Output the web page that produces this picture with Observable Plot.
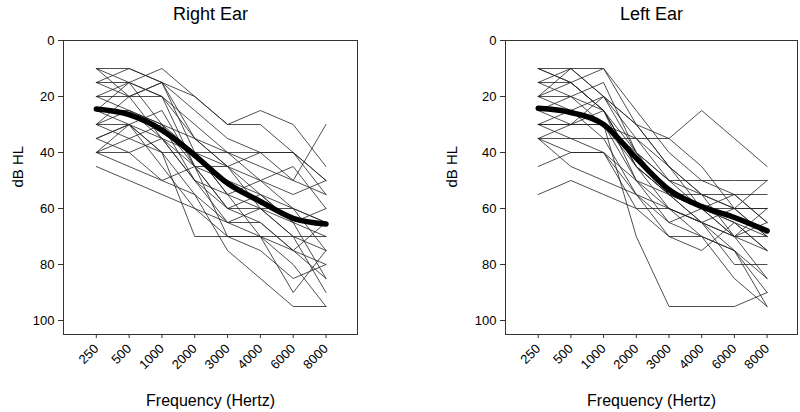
<!DOCTYPE html>
<html>
<head>
<meta charset="utf-8">
<script src="https://cdn.jsdelivr.net/npm/d3@7"></script>
<script src="https://cdn.jsdelivr.net/npm/@observablehq/plot@0.6"></script>
<style>
  html, body { margin: 0; padding: 0; background: #fff; }
  #wrap { display: flex; width: 800px; height: 412px; }
</style>
</head>
<body>
<div id="wrap"></div>
<script>
const freqs = ["250", "500", "1000", "2000", "3000", "4000", "6000", "8000"];
const yTicks = [0, 20, 40, 60, 80, 100];
const titles = ["Right Ear", "Left Ear"];
const yLabel = "dB HL";
const xLabel = "Frequency (Hertz)";

// Individual audiograms, right ear (dB HL at each frequency)
const rightLines = [
  [10, 10, 15, 20, 30, 25, 30, 45],
  [10, 20, 15, 25, 35, 40, 50, 30],
  [15, 15, 10, 20, 30, 30, 40, 50],
  [15, 10, 15, 35, 45, 40, 40, 55],
  [15, 20, 15, 40, 55, 50, 45, 60],
  [20, 15, 20, 30, 40, 50, 55, 50],
  [20, 25, 30, 45, 60, 60, 70, 75],
  [20, 20, 20, 45, 50, 55, 60, 65],
  [25, 15, 30, 40, 55, 70, 80, 95],
  [25, 30, 25, 45, 70, 70, 70, 70],
  [25, 25, 35, 50, 60, 55, 65, 60],
  [30, 25, 30, 35, 40, 45, 50, 55],
  [30, 35, 30, 50, 65, 65, 75, 85],
  [30, 20, 35, 40, 45, 60, 65, 70],
  [30, 30, 40, 55, 75, 85, 95, 95],
  [35, 30, 35, 45, 60, 65, 75, 80],
  [35, 40, 35, 50, 55, 60, 70, 90],
  [35, 30, 40, 70, 70, 70, 75, 65],
  [40, 35, 40, 40, 40, 40, 40, 50],
  [40, 45, 50, 55, 65, 60, 60, 65],
  [40, 30, 45, 60, 65, 70, 90, 75],
  [40, 40, 50, 45, 45, 50, 60, 75],
  [45, 50, 55, 60, 70, 75, 85, 80],
  [10, 15, 20, 35, 45, 55, 65, 85]
];
const rightMean = [24.5, 26.5, 32, 41, 51, 57.5, 63.5, 65.5];

// Individual audiograms, left ear
const leftLines = [
  [10, 10, 10, 30, 45, 55, 60, 70],
  [10, 15, 10, 25, 40, 50, 55, 65],
  [15, 10, 20, 35, 50, 60, 65, 75],
  [15, 20, 15, 40, 55, 55, 60, 60],
  [15, 15, 25, 45, 55, 60, 70, 70],
  [20, 10, 20, 30, 45, 60, 60, 50],
  [20, 20, 25, 50, 60, 65, 75, 90],
  [20, 25, 20, 30, 35, 25, 35, 45],
  [25, 20, 30, 40, 50, 50, 50, 50],
  [25, 30, 25, 45, 60, 65, 70, 85],
  [25, 25, 35, 55, 70, 70, 75, 95],
  [30, 30, 20, 40, 55, 65, 80, 80],
  [30, 25, 30, 50, 65, 60, 55, 55],
  [30, 35, 40, 60, 70, 75, 65, 70],
  [30, 30, 30, 35, 45, 55, 70, 65],
  [35, 35, 35, 35, 35, 45, 60, 60],
  [35, 40, 40, 50, 55, 65, 60, 70],
  [35, 30, 30, 70, 95, 95, 95, 90],
  [45, 40, 40, 55, 60, 70, 85, 95],
  [55, 50, 55, 60, 60, 65, 70, 75],
  [10, 15, 25, 45, 55, 60, 65, 75],
  [20, 15, 25, 40, 50, 55, 55, 65],
  [25, 25, 30, 45, 55, 60, 70, 60],
  [35, 45, 50, 55, 65, 70, 75, 85]
];
const leftMean = [24.2, 25.7, 30, 42, 53.3, 59.3, 63.2, 68];

function toRows(lines) {
  const rows = [];
  lines.forEach((vals, id) => vals.forEach((v, i) => rows.push({id, i, v})));
  return rows;
}
function meanRows(vals) {
  return vals.map((v, i) => ({i, v}));
}

function panel({lines, mean, title, marginLeft, marginRight, xMax, yLabelDx}) {
  return Plot.plot({
    width: 400,
    height: 412,
    marginTop: 40,
    marginBottom: 78,
    marginLeft,
    marginRight,
    style: {fontFamily: "Arial, 'Liberation Sans', sans-serif", fontSize: "13px", background: "#fff", color: "#000"},
    x: {type: "linear", domain: [-1, xMax]},
    y: {type: "linear", domain: [0, 105], reverse: true},
    marks: [
      Plot.frame({stroke: "#333", strokeWidth: 1}),
      Plot.axisY({ticks: yTicks, tickSize: 5, tickPadding: 4, label: null, fontSize: 13, stroke: "#333"}),
      Plot.axisX({ticks: d3.range(freqs.length), tickFormat: i => freqs[i], tickRotate: -45, tickSize: 4, tickPadding: 8, label: null, fontSize: 13, stroke: "#333"}),
      Plot.line(toRows(lines), {x: "i", y: "v", z: "id", stroke: "#222", strokeWidth: 0.8}),
      Plot.line(meanRows(mean), {x: "i", y: "v", stroke: "#000", strokeWidth: 5.5, curve: "monotone-x", strokeLinecap: "round"}),
      Plot.text([title], {frameAnchor: "top", dy: -33, fontSize: 18, fill: "#000"}),
      Plot.text([yLabel], {frameAnchor: "left", dx: yLabelDx, rotate: -90, fontSize: 15, fill: "#000"}),
      Plot.text([xLabel], {frameAnchor: "bottom", dy: 71, fontSize: 16, fill: "#000"})
    ]
  });
}

const wrap = document.getElementById("wrap");
wrap.appendChild(panel({lines: rightLines, mean: rightMean, title: titles[0], marginLeft: 63, marginRight: 43, xMax: 7.96, yLabelDx: -45}));
wrap.appendChild(panel({lines: leftLines, mean: leftMean, title: titles[1], marginLeft: 105, marginRight: 3, xMax: 7.93, yLabelDx: -53}));
</script>
</body>
</html>
